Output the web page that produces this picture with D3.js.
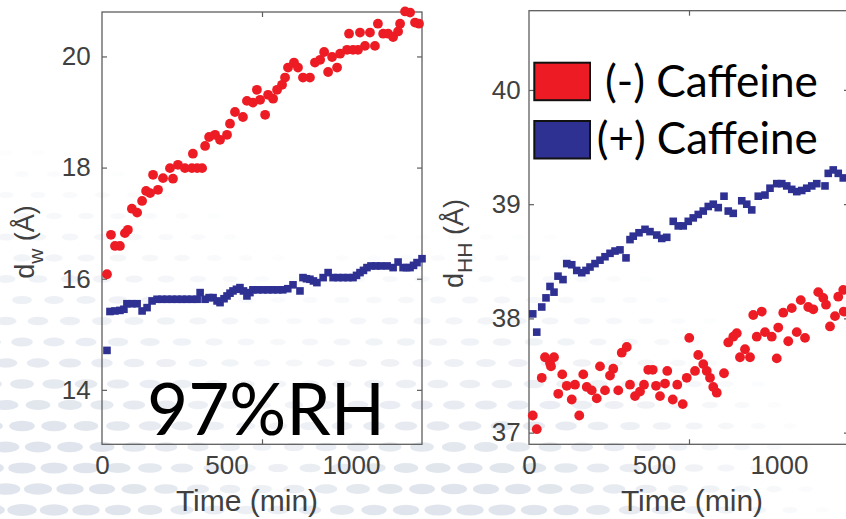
<!DOCTYPE html>
<html>
<head>
<meta charset="utf-8">
<script src="https://cdn.jsdelivr.net/npm/d3@7"></script>
<style>
  html, body { margin: 0; padding: 0; background: #ffffff; }
  svg { display: block; }
</style>
</head>
<body>
<svg id="chart" width="846" height="519"></svg>
<script>
// ---------------- DATA ----------------
const seriesNames = ["(-) Caffeine", "(+) Caffeine"];
const panelLabel = "97%RH";
const xTickValues = [0, 500, 1000];
const yTicksLeft = [14, 16, 18, 20];
const yTicksRight = [37, 38, 39, 40];
const xLabel = "Time (min)";

// left panel: d_w (Å) vs time, (-) caffeine
const dwMinus = [[20,16.08],[36,16.79],[52,16.59],[72,16.59],[92,16.82],[104,16.88],[120,17.26],[141,17.19],[161,17.40],[177,17.58],[193,17.54],[205,17.87],[225,17.60],[245,17.81],[273,17.99],[285,17.80],[305,18.05],[333,17.99],[361,17.99],[365,18.25],[382,17.99],[402,17.99],[414,18.39],[430,18.55],[454,18.59],[474,18.50],[502,18.59],[514,18.79],[534,19.00],[566,18.91],[582,19.20],[606,19.17],[622,19.40],[635,19.22],[655,18.95],[667,19.31],[687,19.24],[703,19.40],[723,19.49],[735,19.62],[747,19.80],[771,19.89],[787,19.80],[807,19.62],[835,19.62],[855,19.89],[876,19.94],[892,20.08],[908,19.72],[924,19.99],[944,19.80],[956,20.05],[984,20.12],[992,20.41],[1008,20.12],[1028,20.12],[1036,20.43],[1056,20.19],[1076,20.43],[1096,20.19],[1108,20.59],[1129,20.41],[1149,20.41],[1169,20.35],[1189,20.45],[1197,20.59],[1217,20.81],[1237,20.79],[1257,20.61],[1273,20.59]];

// left panel: d_w (Å) vs time, (+) caffeine
const dwPlus = [[20,14.71],[32,15.41],[52,15.42],[72,15.43],[88,15.45],[100,15.55],[120,15.55],[141,15.55],[161,15.42],[181,15.48],[201,15.60],[221,15.63],[241,15.63],[261,15.63],[281,15.63],[301,15.63],[321,15.63],[341,15.63],[361,15.63],[382,15.63],[394,15.75],[414,15.63],[430,15.66],[446,15.66],[462,15.60],[474,15.57],[490,15.64],[502,15.69],[514,15.74],[526,15.78],[540,15.81],[554,15.84],[568,15.78],[582,15.69],[594,15.75],[606,15.80],[626,15.80],[646,15.80],[666,15.80],[686,15.80],[706,15.80],[726,15.80],[746,15.82],[767,15.89],[795,15.78],[807,16.02],[821,16.00],[835,15.99],[849,15.96],[863,15.93],[888,16.02],[908,16.11],[928,16.02],[948,16.02],[968,16.02],[988,16.02],[1008,16.02],[1022,16.06],[1036,16.11],[1050,16.15],[1064,16.20],[1080,16.23],[1100,16.23],[1120,16.23],[1145,16.23],[1169,16.20],[1189,16.30],[1209,16.20],[1223,16.20],[1237,16.20],[1251,16.24],[1265,16.29],[1285,16.36]];

// right panel: d_HH (Å) vs time, (-) caffeine
const dhhMinus = [[15,37.15],[31,37.03],[51,37.48],[64,37.66],[84,37.61],[88,37.58],[100,37.66],[117,37.34],[133,37.51],[151,37.41],[171,37.29],[184,37.42],[201,37.15],[217,37.51],[231,37.40],[251,37.37],[271,37.30],[284,37.58],[304,37.37],[324,37.50],[337,37.56],[357,37.37],[371,37.70],[391,37.75],[404,37.42],[424,37.32],[444,37.36],[460,37.42],[477,37.55],[495,37.55],[508,37.41],[524,37.32],[544,37.43],[553,37.54],[575,37.29],[593,37.42],[615,37.25],[631,37.48],[641,37.83],[664,37.54],[677,37.68],[697,37.60],[711,37.54],[724,37.48],[737,37.40],[751,37.35],[780,37.52],[797,37.79],[817,37.84],[831,37.87],[844,37.66],[864,37.73],[884,37.66],[897,38.03],[911,37.84],[931,38.06],[944,37.88],[971,37.84],[991,37.65],[997,37.92],[1017,38.05],[1037,37.80],[1051,38.09],[1071,37.88],[1087,38.16],[1104,37.83],[1117,38.10],[1137,38.08],[1157,38.23],[1177,38.18],[1188,38.12],[1204,37.93],[1224,38.02],[1237,38.19],[1257,38.25],[1259,38.06]];

// right panel: d_HH (Å) vs time, (+) caffeine
const dhhPlus = [[15,38.04],[31,37.88],[51,38.10],[68,38.18],[84,38.28],[100,38.23],[116,38.37],[136,38.34],[151,38.48],[171,38.47],[191,38.42],[211,38.40],[228,38.42],[244,38.45],[264,38.48],[284,38.51],[304,38.54],[324,38.57],[344,38.59],[364,38.60],[388,38.53],[404,38.69],[417,38.72],[440,38.75],[464,38.78],[484,38.76],[511,38.73],[531,38.70],[551,38.71],[577,38.85],[597,38.81],[617,38.81],[637,38.85],[657,38.88],[677,38.91],[697,38.94],[717,38.98],[737,39.00],[757,38.97],[780,39.07],[797,38.94],[817,38.92],[851,39.03],[871,39.00],[891,38.95],[917,39.07],[944,39.08],[964,39.14],[991,39.18],[1011,39.18],[1031,39.16],[1051,39.13],[1071,39.11],[1091,39.12],[1111,39.14],[1131,39.16],[1151,39.18],[1184,39.16],[1197,39.27],[1217,39.30],[1237,39.27],[1257,39.23]];

// ---------------- STYLE ----------------
const RED = "#ed1c24", BLUE = "#2e3192";
const TXT = "#404040", AXC = "#5e5e5e";
const SANS = "'Liberation Sans', Arial, Helvetica, sans-serif";
const HUM = "Lato, 'Open Sans', sans-serif";

const svg = d3.select("#chart");

// ---------- decorative halftone background ----------
const bg = svg.append("g");
const dots = [];
for (let j = 0, y = 6; y < 540; j++, y += 21) {
  for (let x = (j % 2) * 16 - 10; x < 870; x += 32) {
    const fa = 1 - Math.hypot(x - 0, y - 560) / 430;
    const fb = 1 - Math.hypot(x - 470, y - 600) / 390;
    const f = Math.max(0, Math.min(1, Math.max(fa, fb)));
    if (f > 0.04) dots.push({x, y, f});
  }
}
bg.selectAll("ellipse").data(dots).join("ellipse")
  .attr("cx", d => d.x).attr("cy", d => d.y)
  .attr("rx", d => 6 + 10 * d.f).attr("ry", d => 2.5 + 4 * d.f)
  .attr("fill", "#ccd4e1")
  .attr("opacity", d => Math.min(0.6, d.f * 0.9));

// ---------- panels ----------
const panels = [
  {x0: 102, x1: 422, y0: 12, y1: 444.3, xd: [0, 1285], yd: [13.02, 20.8], yt: yTicksLeft,
   minus: dwMinus, plus: dwPlus, sub: "w", ylx: 34, yly: 242, pad: 11.3, xlx: 247},
  {x0: 529, x1: 849, y0: 10.7, y1: 444.3, xd: [0, 1280], yd: [36.898, 40.694], yt: yTicksRight,
   minus: dhhMinus, plus: dhhPlus, sub: "HH", ylx: 463, yly: 243.5, pad: 8.3, xlx: 692}
];

panels.forEach(p => {
  const x = d3.scaleLinear().domain(p.xd).range([p.x0, p.x1]);
  const y = d3.scaleLinear().domain(p.yd).range([p.y1, p.y0]);
  const g = svg.append("g");

  // frame
  g.append("rect").attr("x", p.x0).attr("y", p.y0)
    .attr("width", p.x1 - p.x0).attr("height", p.y1 - p.y0)
    .attr("fill", "none").attr("stroke", AXC).attr("stroke-width", 1.3);

  // y tick marks (inward, both sides)
  const yl = g.append("g").attr("transform", `translate(${p.x0},0)`)
    .call(d3.axisLeft(y).tickValues(p.yt).tickSize(-5).tickFormat(""));
  const yr = g.append("g").attr("transform", `translate(${p.x1},0)`)
    .call(d3.axisRight(y).tickValues(p.yt).tickSize(-5).tickFormat(""));
  // x tick marks at the middle of the axis (top and bottom)
  const mid = (p.xd[0] + p.xd[1]) / 2;
  const xb = g.append("g").attr("transform", `translate(0,${p.y1})`)
    .call(d3.axisBottom(x).tickValues([mid]).tickSize(-5).tickFormat(""));
  const xt = g.append("g").attr("transform", `translate(0,${p.y0})`)
    .call(d3.axisTop(x).tickValues([mid]).tickSize(-5).tickFormat(""));
  [yl, yr, xb, xt].forEach(a => {
    a.select(".domain").remove();
    a.selectAll("line").attr("stroke", AXC).attr("stroke-width", 1.2);
  });

  // tick labels
  const ylab = g.append("g").attr("transform", `translate(${p.x0},0)`)
    .call(d3.axisLeft(y).tickValues(p.yt).tickSize(0).tickPadding(p.pad).tickFormat(d3.format("d")));
  const xlab = g.append("g").attr("transform", `translate(0,${p.y1})`)
    .call(d3.axisBottom(x).tickValues(xTickValues).tickSize(0).tickPadding(11.5).tickFormat(d3.format("d")));
  [ylab, xlab].forEach(a => {
    a.select(".domain").remove();
    a.selectAll("text").attr("fill", TXT).style("font-family", SANS).style("font-size", "26px");
  });

  // axis titles
  g.append("text").attr("x", p.xlx).attr("y", 510.5).attr("text-anchor", "middle")
    .attr("fill", TXT).style("font-family", SANS).style("font-size", "30px").text(xLabel);
  const yt = g.append("text").attr("transform", `translate(${p.ylx},${p.yly}) rotate(-90)`)
    .attr("text-anchor", "middle").attr("fill", TXT)
    .style("font-family", SANS).style("font-size", "27px");
  yt.append("tspan").text("d");
  yt.append("tspan").attr("dy", 9).style("font-size", "21px").text(p.sub);
  yt.append("tspan").attr("dy", -9).text(" (Å)");

  // markers
  g.append("g").selectAll("circle").data(p.minus).join("circle")
    .attr("cx", d => x(d[0])).attr("cy", d => y(d[1])).attr("r", 4.9).attr("fill", RED);
  const s = 7.6;
  g.append("g").selectAll("rect").data(p.plus).join("rect")
    .attr("x", d => x(d[0]) - s / 2).attr("y", d => y(d[1]) - s / 2)
    .attr("width", s).attr("height", s).attr("fill", BLUE);
});

// helper: fit text to a target width by adjusting font size
function fitText(sel, targetWidth) {
  const fs = parseFloat(sel.style("font-size"));
  const w = sel.node().getComputedTextLength();
  sel.style("font-size", (fs * targetWidth / w).toFixed(2) + "px");
}

// 97%RH label
const rh = svg.append("text").attr("x", 147).attr("y", 434.5)
  .attr("fill", "#000").style("font-family", HUM).style("font-size", "70px").text(panelLabel);
fitText(rh, 238);

// legend
const legend = svg.append("g");
const legItems = [
  {name: seriesNames[0], color: RED, by: 62.7, tx: 605, base: 96.7, w: 213},
  {name: seriesNames[1], color: BLUE, by: 121, tx: 596.7, base: 153.5, w: 221}
];
legItems.forEach(it => {
  legend.append("rect").attr("x", 534.3).attr("y", it.by).attr("width", 55.7).attr("height", 37.5)
    .attr("fill", it.color).attr("stroke", "#111").attr("stroke-width", 2);
  const t = legend.append("text").attr("x", it.tx).attr("y", it.base).attr("fill", "#000")
    .style("font-family", HUM).style("font-size", "40px").text(it.name);
  fitText(t, it.w);
});
</script>
</body>
</html>
